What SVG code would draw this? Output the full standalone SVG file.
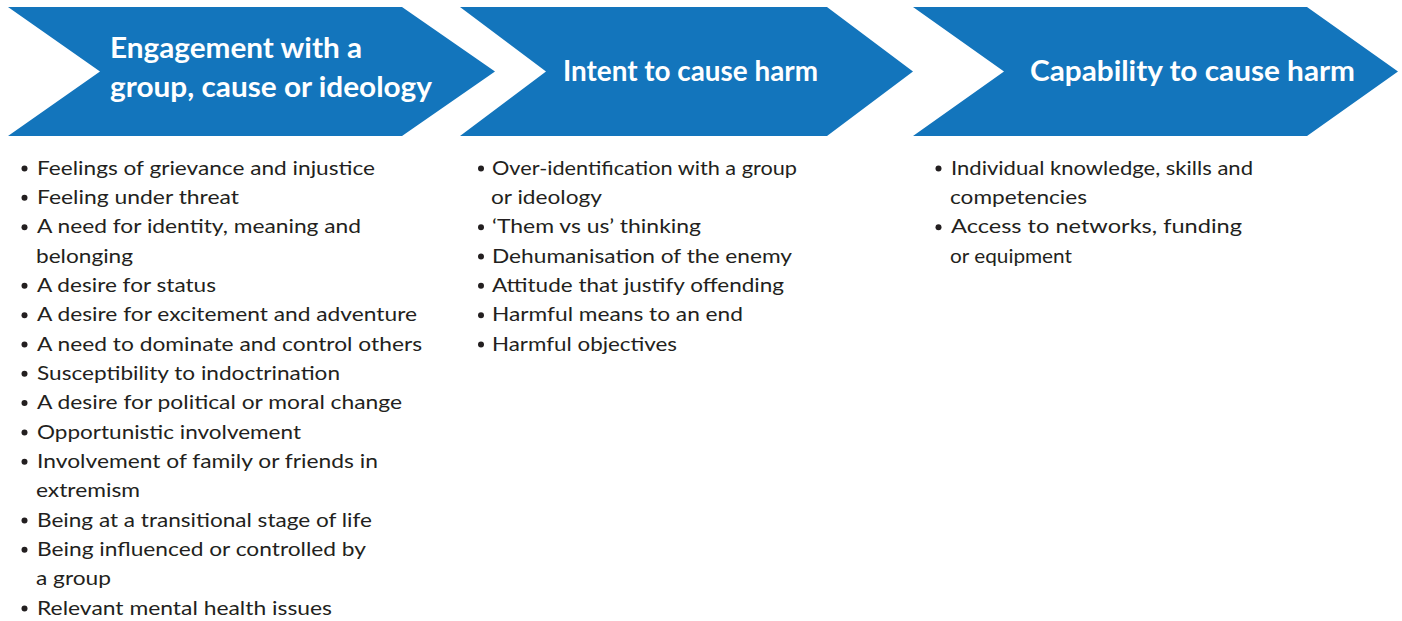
<svg xmlns="http://www.w3.org/2000/svg" width="1402" height="621" viewBox="0 0 1402 621">
<style>
.chev{fill:#1375BC}
.h{font-family:Lato,"Liberation Sans",sans-serif;font-weight:bold;font-size:28.5px;fill:#ffffff}
.b{font-family:Lato,"Liberation Sans",sans-serif;font-size:20px;fill:#231F20}
.dot{fill:#231F20}
</style>
<rect width="1402" height="621" fill="#ffffff"/>
<g id="stage1">
<polygon class="chev" points="8,7 402,7 495,71.5 402,136 8,136 100,71.5"/>
<text class="h" x="110" y="58" textLength="252" lengthAdjust="spacingAndGlyphs">Engagement with a</text>
<text class="h" x="110" y="97" textLength="322" lengthAdjust="spacingAndGlyphs">group, cause or ideology</text>
</g>
<g id="stage2">
<polygon class="chev" points="460,7 827,7 913,71.5 827,136 460,136 546,71.5"/>
<text class="h" x="563" y="81" textLength="255" lengthAdjust="spacingAndGlyphs">Intent to cause harm</text>
</g>
<g id="stage3">
<polygon class="chev" points="913,7 1307,7 1398,71.5 1307,136 913,136 1004,71.5"/>
<text class="h" x="1030" y="81" textLength="325" lengthAdjust="spacingAndGlyphs">Capability to cause harm</text>
</g>
<g id="list1">
<circle class="dot" cx="24.5" cy="168.5" r="3"/>
<text class="b" x="37" y="174.5" textLength="338" lengthAdjust="spacingAndGlyphs">Feelings of grievance and injustice</text>
<circle class="dot" cx="24.5" cy="197.8" r="3"/>
<text class="b" x="37" y="203.8" textLength="202" lengthAdjust="spacingAndGlyphs">Feeling under threat</text>
<circle class="dot" cx="24.5" cy="227.2" r="3"/>
<text class="b" x="37" y="233.2" textLength="324" lengthAdjust="spacingAndGlyphs">A need for identity, meaning and</text>
<text class="b" x="36" y="262.5" textLength="97" lengthAdjust="spacingAndGlyphs">belonging</text>
<circle class="dot" cx="24.5" cy="285.8" r="3"/>
<text class="b" x="37" y="291.8" textLength="179" lengthAdjust="spacingAndGlyphs">A desire for status</text>
<circle class="dot" cx="24.5" cy="315.2" r="3"/>
<text class="b" x="37" y="321.2" textLength="380" lengthAdjust="spacingAndGlyphs">A desire for excitement and adventure</text>
<circle class="dot" cx="24.5" cy="344.5" r="3"/>
<text class="b" x="37" y="350.5" textLength="385" lengthAdjust="spacingAndGlyphs">A need to dominate and control others</text>
<circle class="dot" cx="24.5" cy="373.8" r="3"/>
<text class="b" x="37" y="379.8" textLength="303" lengthAdjust="spacingAndGlyphs">Susceptibility to indoctrination</text>
<circle class="dot" cx="24.5" cy="403.1" r="3"/>
<text class="b" x="37" y="409.1" textLength="365" lengthAdjust="spacingAndGlyphs">A desire for political or moral change</text>
<circle class="dot" cx="24.5" cy="432.5" r="3"/>
<text class="b" x="37" y="438.5" textLength="264" lengthAdjust="spacingAndGlyphs">Opportunistic involvement</text>
<circle class="dot" cx="24.5" cy="461.8" r="3"/>
<text class="b" x="37" y="467.8" textLength="341" lengthAdjust="spacingAndGlyphs">Involvement of family or friends in</text>
<text class="b" x="36" y="497.1" textLength="104" lengthAdjust="spacingAndGlyphs">extremism</text>
<circle class="dot" cx="24.5" cy="520.5" r="3"/>
<text class="b" x="37" y="526.5" textLength="335" lengthAdjust="spacingAndGlyphs">Being at a transitional stage of life</text>
<circle class="dot" cx="24.5" cy="549.8" r="3"/>
<text class="b" x="37" y="555.8" textLength="329" lengthAdjust="spacingAndGlyphs">Being influenced or controlled by</text>
<text class="b" x="36" y="585.1" textLength="75" lengthAdjust="spacingAndGlyphs">a group</text>
<circle class="dot" cx="24.5" cy="608.5" r="3"/>
<text class="b" x="37" y="614.5" textLength="295" lengthAdjust="spacingAndGlyphs">Relevant mental health issues</text>
</g>
<g id="list2">
<circle class="dot" cx="481" cy="168.5" r="3"/>
<text class="b" x="492" y="174.5" textLength="305" lengthAdjust="spacingAndGlyphs">Over-identification with a group</text>
<text class="b" x="491" y="203.8" textLength="111" lengthAdjust="spacingAndGlyphs">or ideology</text>
<circle class="dot" cx="481" cy="227.2" r="3"/>
<text class="b" x="492" y="233.2" textLength="209" lengthAdjust="spacingAndGlyphs">‘Them vs us’ thinking</text>
<circle class="dot" cx="481" cy="256.5" r="3"/>
<text class="b" x="492" y="262.5" textLength="300" lengthAdjust="spacingAndGlyphs">Dehumanisation of the enemy</text>
<circle class="dot" cx="481" cy="285.8" r="3"/>
<text class="b" x="492" y="291.8" textLength="292" lengthAdjust="spacingAndGlyphs">Attitude that justify offending</text>
<circle class="dot" cx="481" cy="315.2" r="3"/>
<text class="b" x="492" y="321.2" textLength="251" lengthAdjust="spacingAndGlyphs">Harmful means to an end</text>
<circle class="dot" cx="481" cy="344.5" r="3"/>
<text class="b" x="492" y="350.5" textLength="185" lengthAdjust="spacingAndGlyphs">Harmful objectives</text>
</g>
<g id="list3">
<circle class="dot" cx="938.5" cy="168.5" r="3"/>
<text class="b" x="951" y="174.5" textLength="302" lengthAdjust="spacingAndGlyphs">Individual knowledge, skills and</text>
<text class="b" x="950" y="203.8" textLength="137" lengthAdjust="spacingAndGlyphs">competencies</text>
<circle class="dot" cx="938.5" cy="227.2" r="3"/>
<text class="b" x="951" y="233.2" textLength="291" lengthAdjust="spacingAndGlyphs">Access to networks, funding</text>
<text class="b" x="950" y="262.5" textLength="122" lengthAdjust="spacingAndGlyphs">or equipment</text>
</g>
<g id="connectors"></g>
</svg>
